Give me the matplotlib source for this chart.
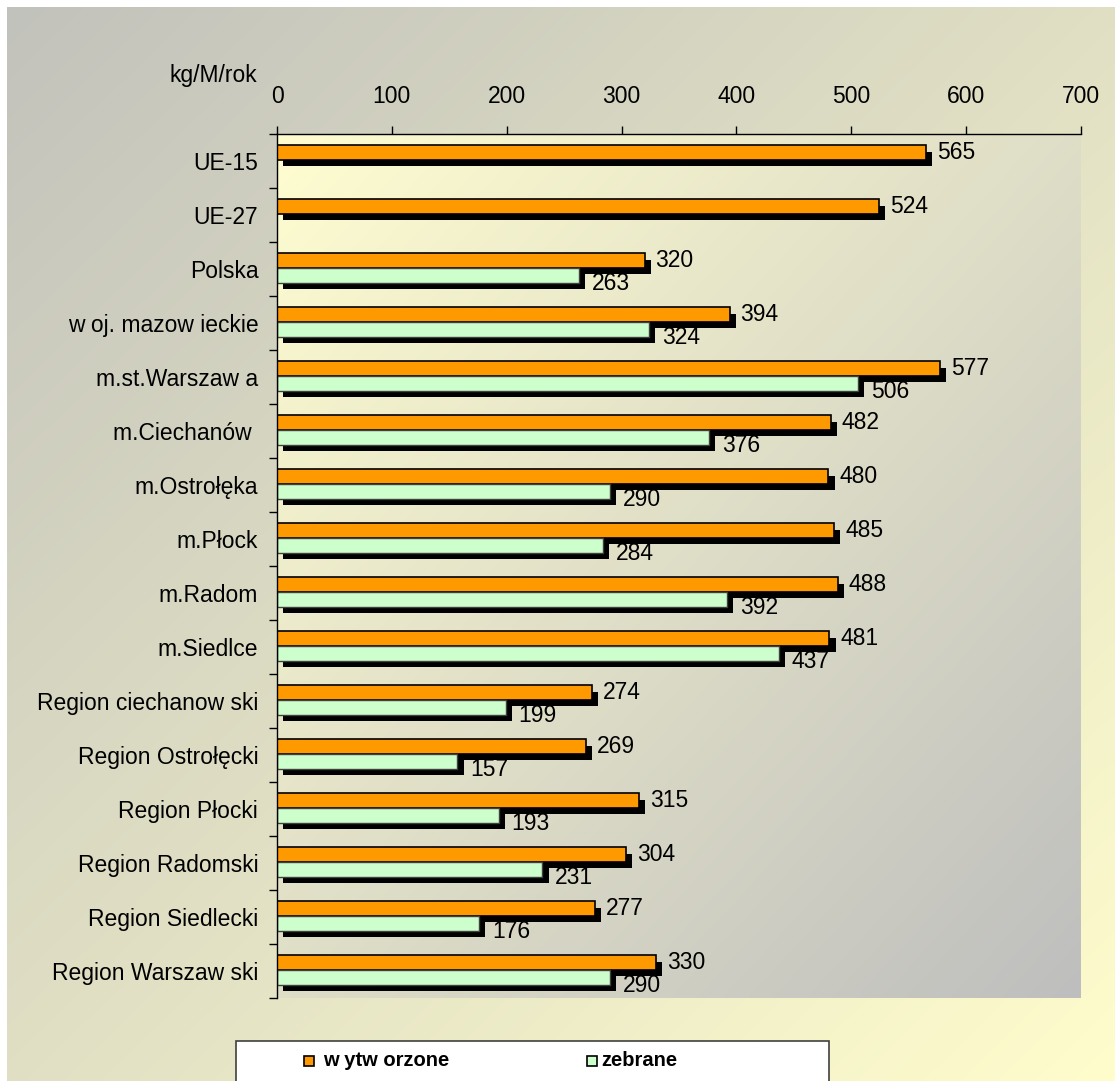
import numpy as np
import matplotlib.pyplot as plt
import matplotlib.patheffects as pe
from matplotlib.patches import Rectangle

plt.rcParams['font.family'] = ['Liberation Sans', 'DejaVu Sans']

categories = ["UE-15", "UE-27", "Polska", "w oj. mazow ieckie", "m.st.Warszaw a",
              "m.Ciechanów ", "m.Ostrołęka", "m.Płock", "m.Radom", "m.Siedlce",
              "Region ciechanow ski", "Region Ostrołęcki", "Region Płocki",
              "Region Radomski", "Region Siedlecki", "Region Warszaw ski"]
wytworzone = [565, 524, 320, 394, 577, 482, 480, 485, 488, 481, 274, 269, 315, 304, 277, 330]
zebrane = [np.nan, np.nan, 263, 324, 506, 376, 290, 284, 392, 437, 199, 157, 193, 231, 176, 290]
x_ticks = [0, 100, 200, 300, 400, 500, 600, 700]

W, H = 1115, 1081
FS = 16.5
fig = plt.figure(figsize=(W / 100, H / 100), dpi=100)
fig.patch.set_facecolor('white')


def diag_gradient(c0, c1, n=200):
    xx, yy = np.meshgrid(np.linspace(0, 1, n), np.linspace(0, 1, n))
    t = (xx + yy) / 2
    c0 = np.array(c0) / 255
    c1 = np.array(c1) / 255
    return c0[None, None, :] * (1 - t[..., None]) + c1[None, None, :] * t[..., None]


# outer background (gray top-left -> pale yellow bottom-right)
bg = fig.add_axes([7 / W, 0, 1 - 7 / W, 1 - 7 / H], zorder=-10)
bg.imshow(diag_gradient((194, 194, 188), (255, 253, 204)), aspect='auto',
          extent=[0, 1, 0, 1], interpolation='bilinear')
bg.axis('off')

left, right, top, bottom = 277, 1081, 134, 998
ax = fig.add_axes([left / W, 1 - bottom / H, (right - left) / W, (bottom - top) / H])
ax.set_facecolor('none')
ax.imshow(diag_gradient((255, 253, 208), (190, 190, 190)), aspect='auto',
          extent=[0, 1, 0, 1], transform=ax.transAxes, interpolation='bilinear', zorder=0)

y = np.arange(len(categories))
h = 0.27
shadow = [pe.SimplePatchShadow(offset=(4.5, -4.5), shadow_rgbFace='black', alpha=1.0), pe.Normal()]

ax.barh(y - 0.155, wytworzone, height=h, color='#FF9900', edgecolor='black',
        linewidth=1.2, path_effects=shadow, zorder=2)
mask = ~np.isnan(zebrane)
zb = np.array(zebrane)
ax.barh(y[mask] + 0.115, zb[mask], height=h, color='#CCFFCC', edgecolor='#404040',
        linewidth=1.0, path_effects=shadow, zorder=2)

for i, v in enumerate(wytworzone):
    ax.annotate(str(v), (v, i - 0.155), xytext=(11, 0), textcoords='offset pixels',
                va='center', ha='left', fontsize=FS, zorder=3)
for i, v in enumerate(zebrane):
    if not np.isnan(v):
        ax.annotate(str(int(v)), (v, i + 0.115), xytext=(13, -8), textcoords='offset pixels',
                    va='center', ha='left', fontsize=FS, zorder=3)

ax.set_xlim(0, 700)
ax.set_ylim(len(categories) - 0.5, -0.5)
ax.set_xticks(x_ticks)
ax.xaxis.tick_top()
ax.tick_params(axis='x', direction='out', length=6, width=1, pad=13, labelsize=FS)
ax.set_yticks(y)
ax.set_yticklabels(categories)
ax.set_yticks(np.arange(len(categories) + 1) - 0.5, minor=True)
ax.tick_params(axis='y', which='major', length=0, pad=13.5, labelsize=FS)
ax.tick_params(axis='y', which='minor', length=6, width=1)
for s in ['right', 'bottom']:
    ax.spines[s].set_visible(False)
ax.spines['left'].set_linewidth(1)
ax.spines['top'].set_linewidth(1)

fig.text(257 / W, 1 - 82 / H, "kg/M/rok", ha='right', va='baseline', fontsize=FS)

# legend box
fig.patches.append(Rectangle((236 / W, -0.01), (829 - 236) / W, (1 - 1041 / H) + 0.01,
                             transform=fig.transFigure, facecolor='white',
                             edgecolor='#404040', linewidth=1.2, zorder=5))
fig.patches.append(Rectangle((304 / W, 1 - 1066 / H), 10 / W, 10 / H, transform=fig.transFigure,
                             facecolor='#FF9900', edgecolor='black', linewidth=1.2, zorder=6))
fig.text(323 / W, 1 - 1061 / H, "w ytw orzone", fontsize=14.5, fontweight='bold',
         va='center', ha='left', zorder=7)
fig.patches.append(Rectangle((587 / W, 1 - 1066 / H), 10 / W, 10 / H, transform=fig.transFigure,
                             facecolor='#CCFFCC', edgecolor='black', linewidth=1.2, zorder=6))
fig.text(601 / W, 1 - 1061 / H, "zebrane", fontsize=14.5, fontweight='bold',
         va='center', ha='left', zorder=7)

fig.savefig("out.png", dpi=100)
